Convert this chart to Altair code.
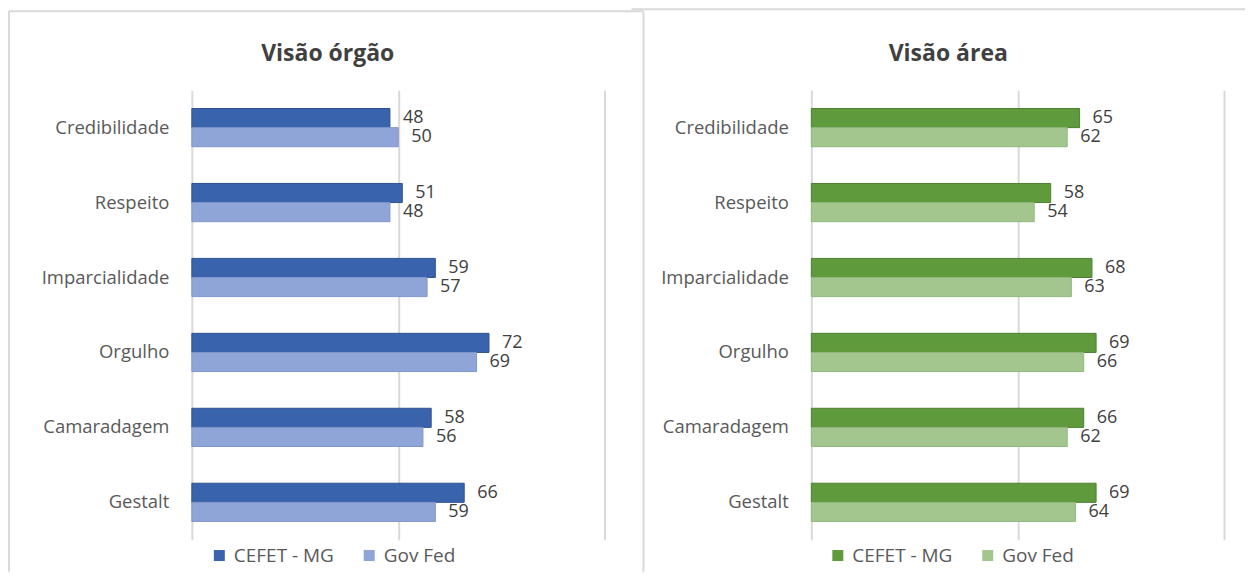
import altair as alt
import pandas as pd

categories = ["Credibilidade", "Respeito", "Imparcialidade", "Orgulho", "Camaradagem", "Gestalt"]
series = ["CEFET - MG", "Gov Fed"]
orgao_cefet = [48, 51, 59, 72, 58, 66]
orgao_gov = [50, 48, 57, 69, 56, 59]
area_cefet = [65, 58, 68, 69, 66, 69]
area_gov = [62, 54, 63, 66, 62, 64]
panel_titles = ["Visão órgão", "Visão área"]

FONT = "Open Sans"


def panel(cefet, gov, title, fills, strokes, title_x, legend_x, frame):
    df = pd.DataFrame({
        "cat": categories * 2,
        "serie": [series[0]] * len(categories) + [series[1]] * len(categories),
        "valor": cefet + gov,
    })
    y = alt.Y("cat:N", sort=categories,
              scale=alt.Scale(paddingInner=0.49, paddingOuter=0.245),
              axis=alt.Axis(title=None, labelFont=FONT, labelFontSize=18.5,
                            labelColor="#595959", labelPadding=23,
                            ticks=False, domain=False, grid=False))
    x = alt.X("valor:Q", scale=alt.Scale(domain=[0, 100], nice=False),
              axis=alt.Axis(values=[0, 50, 100], labels=False, ticks=False,
                            domain=False, title=None, grid=True,
                            gridColor="#d9d9d9", gridWidth=2))
    yoff = alt.YOffset("serie:N", sort=series, scale=alt.Scale(paddingInner=0, paddingOuter=0))
    base = alt.Chart(df).encode(y=y, yOffset=yoff)
    bars = base.mark_bar(strokeWidth=1).encode(
        x=x,
        color=alt.Color("serie:N", sort=series,
                        scale=alt.Scale(domain=series, range=fills),
                        legend=alt.Legend(title=None, orient="none", direction="horizontal",
                                          legendX=legend_x, legendY=456,
                                          symbolType="square", symbolSize=121,
                                          symbolStrokeWidth=0,
                                          labelFont=FONT, labelFontSize=19,
                                          labelColor="#595959", labelOffset=5,
                                          columnPadding=25)),
        stroke=alt.Stroke("serie:N", sort=series,
                          scale=alt.Scale(domain=series, range=strokes), legend=None),
    )
    labels = base.mark_text(align="left", baseline="middle", dx=13, font=FONT,
                            fontSize=18, color="#404040").encode(
        x=alt.X("valor:Q"), text=alt.Text("valor:Q"))
    one = alt.Chart(pd.DataFrame({"t": [title]}))
    ttl = one.mark_text(align="center", baseline="middle", font=FONT, fontSize=23,
                        fontWeight="bold", color="#404040").encode(
        x=alt.value(title_x), y=alt.value(-36), text="t:N")
    layers = [bars, labels, ttl]
    for (x1, x2, y1, y2) in frame:
        layers.append(one.mark_rule(color="#d9d9d9", strokeWidth=2).encode(
            x=alt.value(x1), x2=alt.value(x2), y=alt.value(y1), y2=alt.value(y2)))
    return alt.layer(*layers).properties(width=413, height=450)


left = panel(orgao_cefet, orgao_gov, panel_titles[0],
             ["#3A63AD", "#8FA5D7"], ["#2F528F", "#7F96CC"], 136, 18,
             [(-183, -183, -79, 482), (-183, 452, -79, -79), (452, 452, -79, 482)])
right = panel(area_cefet, area_gov, panel_titles[1],
              ["#5F9A3D", "#A2C68E"], ["#4E7F31", "#92B87D"], 137, 17,
              [(-180, 434, -81, -81)])

chart = alt.hconcat(left, right, spacing=207, bounds="flush").resolve_scale(
    color="independent", stroke="independent", y="independent"
).configure_view(stroke=None).properties(
    padding={"left": 0, "top": 0, "right": 0, "bottom": 0}
)

chart.save("out.html", embed_options={"renderer": "svg", "actions": False})
